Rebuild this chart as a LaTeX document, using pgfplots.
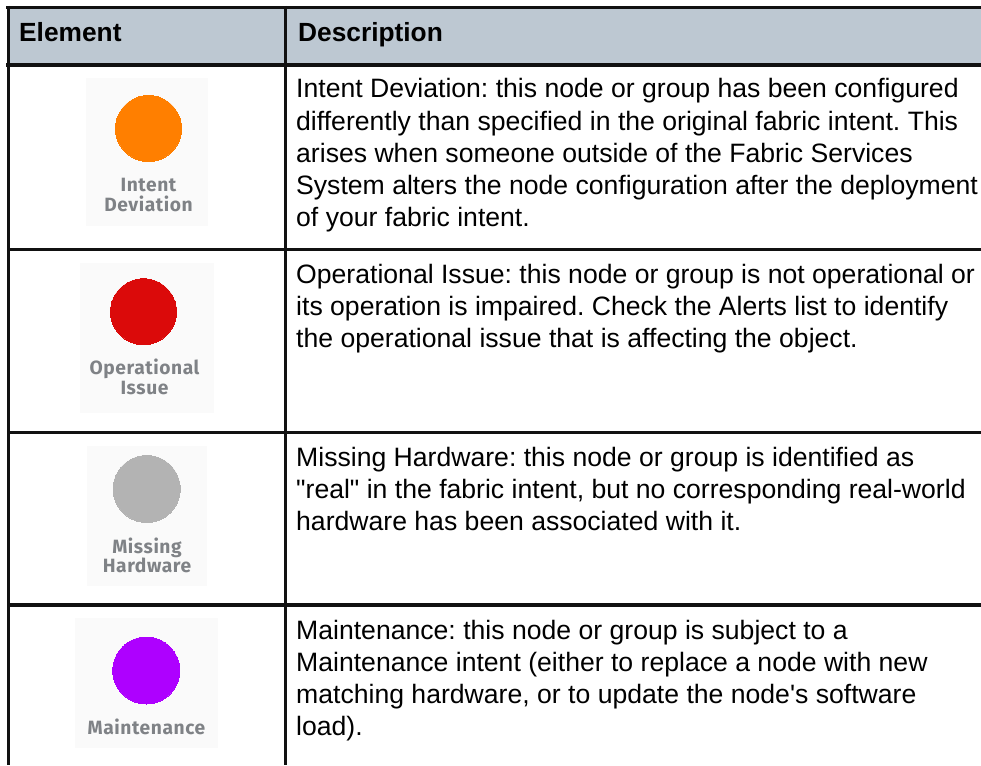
\documentclass[border=0pt]{standalone}
\usepackage{fontspec}
\usepackage{pgfplots}
\pgfplotsset{compat=1.18}
\setmainfont{Liberation Sans}
\newfontfamily\bodyfont{Liberation Sans}
\newfontfamily\iconfont{Fira Sans}[LetterSpace=3]
\frenchspacing
\definecolor{hdr}{HTML}{BDC8D2}
\definecolor{boxc}{HTML}{FAFAFA}
\definecolor{orng}{HTML}{FF7F00}
\definecolor{redc}{HTML}{DB0A0A}
\definecolor{greyc}{HTML}{B3B3B3}
\definecolor{purp}{HTML}{AE00FF}
\definecolor{icontxt}{HTML}{7F8286}
\definecolor{rule}{HTML}{111111}
\newcommand{\body}[2]{\node[anchor=base west,inner sep=0pt,text=black] at (axis cs:296,#1) {\bodyfont\fontsize{26.6}{32}\selectfont #2};}
\newcommand{\icon}[3]{\node[anchor=base,inner sep=0pt,text=icontxt] at (axis cs:#1,#2) {\iconfont\bfseries\fontsize{19.2}{22}\selectfont #3};}
\begin{document}
\begin{tikzpicture}
\path[use as bounding box] (0,0) rectangle (981pt,765pt);
\begin{axis}[at={(0,0)},anchor=south west,scale only axis,width=981pt,height=765pt,
  xmin=0,xmax=981,ymin=0,ymax=765,y dir=reverse,hide axis,clip=true]
% header fill
\addplot[draw=none,fill=hdr,forget plot] coordinates {(8,8)(981,8)(981,64)(8,64)} --cycle;
% icon backgrounds
\addplot[draw=none,fill=boxc,forget plot] coordinates {(86,78)(208,78)(208,226)(86,226)} --cycle;
\addplot[draw=none,fill=boxc,forget plot] coordinates {(80,263)(214,263)(214,413)(80,413)} --cycle;
\addplot[draw=none,fill=boxc,forget plot] coordinates {(87,446)(207,446)(207,586)(87,586)} --cycle;
\addplot[draw=none,fill=boxc,forget plot] coordinates {(75,618)(218,618)(218,748)(75,748)} --cycle;
% rules
\addplot[rule,line width=3.2pt,forget plot] coordinates {(6,7.5)(981,7.5)};
\addplot[rule,line width=3.4pt,forget plot] coordinates {(6,65)(981,65)};
\addplot[rule,line width=3pt,forget plot] coordinates {(8,249.2)(981,249.2)};
\addplot[rule,line width=3pt,forget plot] coordinates {(8,432.8)(981,432.8)};
\addplot[rule,line width=3.4pt,forget plot] coordinates {(8,605)(981,605)};
\addplot[rule,line width=3pt,forget plot] coordinates {(8.5,6)(8.5,765)};
\addplot[rule,line width=3pt,forget plot] coordinates {(285.8,6)(285.8,765)};
% status circles
\addplot[only marks,mark=*,mark size=33pt,mark options={draw=orng,line width=0pt,fill=orng},forget plot] coordinates {(148.5,128.5)};
\addplot[only marks,mark=*,mark size=33pt,mark options={draw=redc,line width=0pt,fill=redc},forget plot] coordinates {(143.5,311.7)};
\addplot[only marks,mark=*,mark size=33.5pt,mark options={draw=greyc,line width=0pt,fill=greyc},forget plot] coordinates {(146.7,489)};
\addplot[only marks,mark=*,mark size=33.5pt,mark options={draw=purp,line width=0pt,fill=purp},forget plot] coordinates {(146.3,670.5)};
% header text
\node[anchor=base west,inner sep=0pt] at (axis cs:19,41.5) {\bodyfont\fontsize{26.3}{32}\selectfont\bfseries Element};
\node[anchor=base west,inner sep=0pt] at (axis cs:298,41.5) {\bodyfont\fontsize{26.3}{32}\selectfont\bfseries Description};
% icon labels
\icon{148.5}{191}{Intent}
\icon{148.5}{211}{Deviation}
\icon{144.5}{374}{Operational}
\icon{144.5}{394}{Issue}
\icon{147}{553}{Missing}
\icon{147}{572}{Hardware}
\icon{146.5}{734}{Maintenance}
% body text
\body{98}{Intent Deviation: this node or group has been configured}
\body{130}{differently than specified in the original fabric intent. This}
\body{162}{arises when someone outside of the Fabric Services}
\body{194}{System alters the node configuration after the deployment}
\body{226}{of your fabric intent.}
\body{283}{Operational Issue: this node or group is not operational or}
\body{315}{its operation is impaired. Check the Alerts list to identify}
\body{347}{the operational issue that is affecting the object.}
\body{466}{Missing Hardware: this node or group is identified as}
\body{498}{"real" in the fabric intent, but no corresponding real-world}
\body{530}{hardware has been associated with it.}
\body{639}{Maintenance: this node or group is subject to a}
\body{671}{Maintenance intent (either to replace a node with new}
\body{703}{matching hardware, or to update the node's software}
\body{735}{load).}
\end{axis}
\end{tikzpicture}
\end{document}
